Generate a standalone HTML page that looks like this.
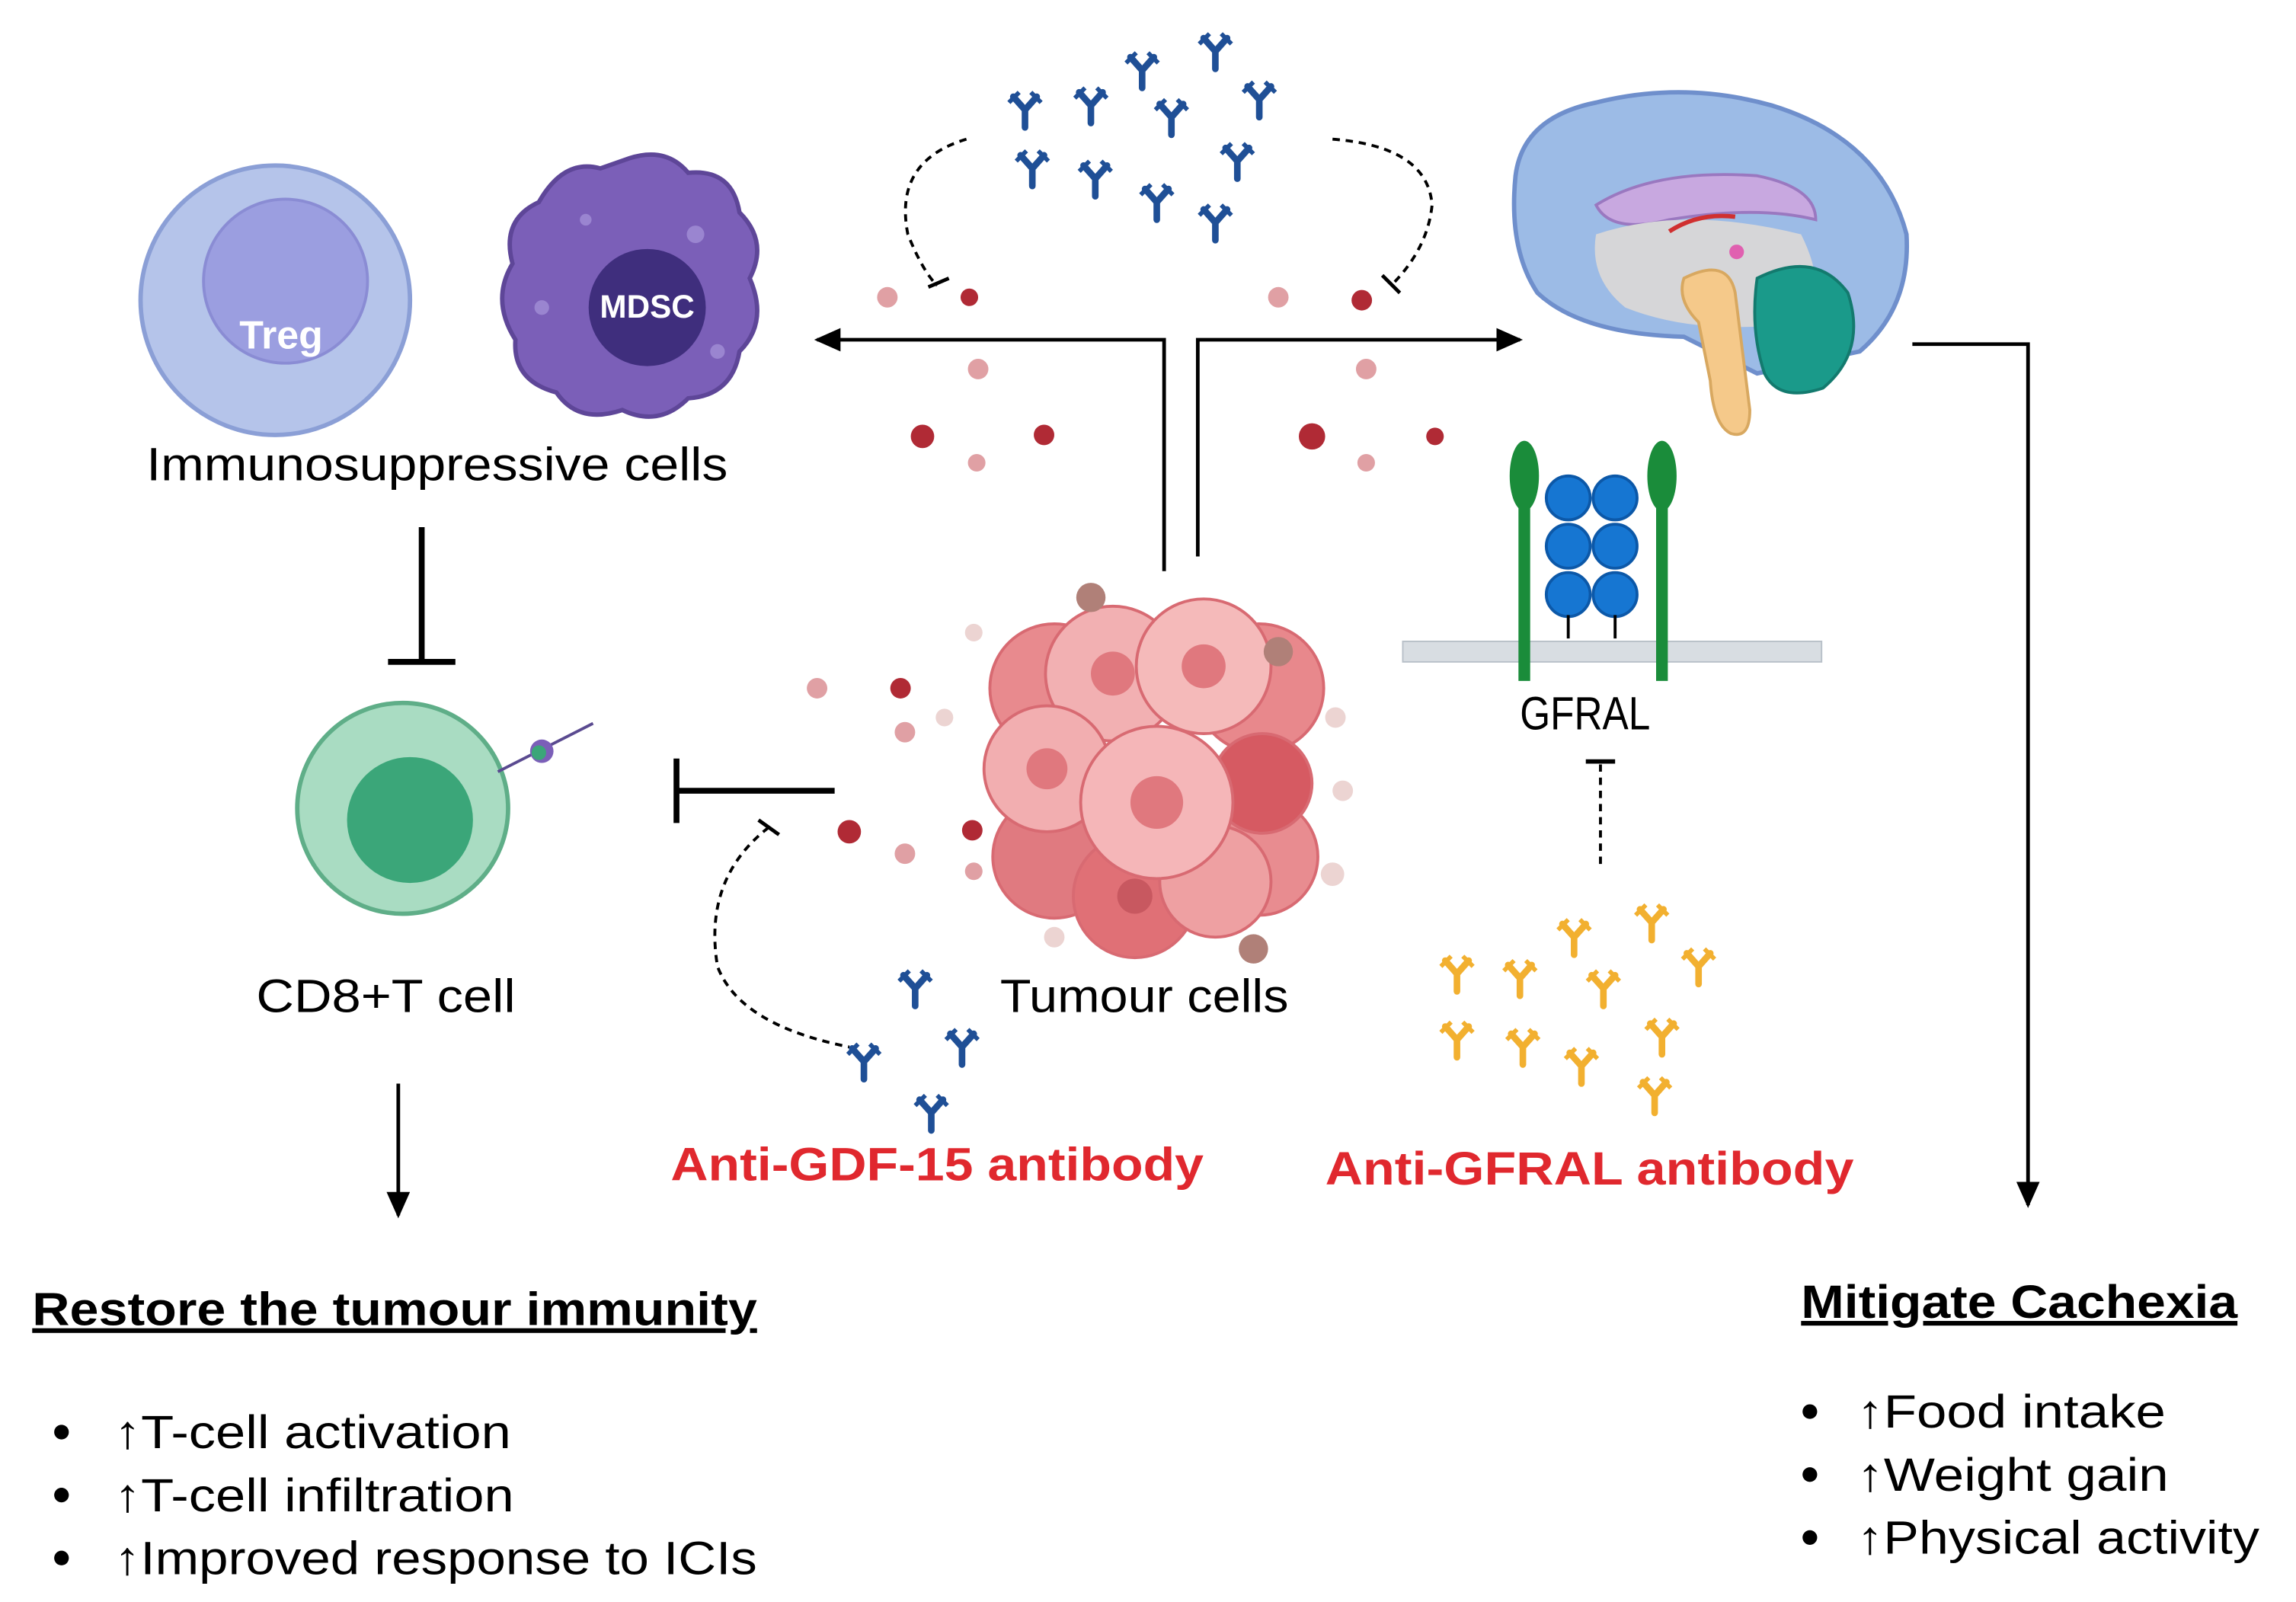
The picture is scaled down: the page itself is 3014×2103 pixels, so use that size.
<!DOCTYPE html>
<html><head><meta charset="utf-8"><style>
html,body{margin:0;padding:0;background:#fff}
svg{display:block}
text{font-family:"Liberation Sans",Arial,sans-serif}
</style></head><body>
<svg width="3014" height="2103" viewBox="0 0 1568 1094" xmlns="http://www.w3.org/2000/svg">
<defs>
<g id="ab"><path d="M0,0 L0,12 M0,0 L-8,-9 M0,0 L8,-9" stroke-width="4.5" stroke-linecap="round" fill="none"/><path d="M-4,-12 L-11,-5 M4,-12 L11,-5" stroke-width="3" fill="none"/></g>
<marker id="ahb" markerWidth="20" markerHeight="20" refX="16" refY="8" orient="auto" markerUnits="userSpaceOnUse"><path d="M0,0 L18,8 L0,16 Z" fill="#000"/></marker>
</defs>
<rect width="1568" height="1094" fill="#fff"/>

<!-- Treg -->
<circle cx="188" cy="205" r="92" fill="#b5c4ea" stroke="#8b9fd6" stroke-width="3"/>
<circle cx="195" cy="192" r="56" fill="#9b9ee0" stroke="#8a8cd4" stroke-width="2"/>
<text x="192" y="238" font-size="27" font-weight="bold" fill="#fff" text-anchor="middle">Treg</text>
<!-- MDSC -->
<path d="M430,108 Q455,100 470,118 Q500,115 505,145 Q525,165 512,190 Q525,220 505,240 Q500,270 470,272 Q450,292 425,280 Q395,290 380,268 Q350,260 352,232 Q335,205 350,180 Q342,150 368,138 Q385,108 410,115 Z" fill="#7b5fb8" stroke="#5e4698" stroke-width="3"/>
<circle cx="442" cy="210" r="40" fill="#3f2e7d"/>
<circle cx="370" cy="210" r="5" fill="#9a85d0"/><circle cx="475" cy="160" r="6" fill="#9a85d0"/><circle cx="400" cy="150" r="4" fill="#9a85d0"/><circle cx="490" cy="240" r="5" fill="#9a85d0"/>
<text x="442" y="217" font-size="22" font-weight="bold" fill="#fff" text-anchor="middle">MDSC</text>
<text x="100" y="328" font-size="32" textLength="397" lengthAdjust="spacingAndGlyphs">Immunosuppressive cells</text>
<path d="M288,360 L288,450 M265,452 L311,452" stroke="#000" stroke-width="4" fill="none"/>
<!-- CD8 -->
<circle cx="275" cy="552" r="72" fill="#a9dcc2" stroke="#5fae88" stroke-width="3"/>
<circle cx="280" cy="560" r="43" fill="#3ba679"/>
<path d="M340,527 L405,494" stroke="#5a4a90" stroke-width="2"/>
<circle cx="370" cy="513" r="8" fill="#7b5fb8"/><circle cx="368" cy="514" r="5" fill="#3ba679"/>
<text x="175" y="691" font-size="32" textLength="177" lengthAdjust="spacingAndGlyphs">CD8+T cell</text>
<path d="M272,740 L272,830" stroke="#000" stroke-width="2.5" marker-end="url(#ahb)"/>
<text x="22" y="905" font-size="32" font-weight="bold" text-decoration="underline" textLength="495" lengthAdjust="spacingAndGlyphs">Restore the tumour immunity</text>
<g font-size="32">
<circle cx="42" cy="978" r="5"/><text x="78" y="989" textLength="271" lengthAdjust="spacingAndGlyphs">↑T-cell activation</text>
<circle cx="42" cy="1021" r="5"/><text x="78" y="1032" textLength="273" lengthAdjust="spacingAndGlyphs">↑T-cell infiltration</text>
<circle cx="42" cy="1064" r="5"/><text x="78" y="1075" textLength="439" lengthAdjust="spacingAndGlyphs">↑Improved response to ICIs</text>
</g>

<!-- top antibodies -->
<g stroke="#1f4f96" fill="none">
<use href="#ab" x="830" y="35"/><use href="#ab" x="780" y="48"/><use href="#ab" x="700" y="75"/><use href="#ab" x="745" y="72"/><use href="#ab" x="800" y="80"/><use href="#ab" x="860" y="68"/><use href="#ab" x="705" y="115"/><use href="#ab" x="748" y="122"/><use href="#ab" x="790" y="138"/><use href="#ab" x="845" y="110"/><use href="#ab" x="830" y="152"/>
</g>
<path d="M660,95 Q610,110 620,160 Q630,185 640,195" stroke="#000" stroke-width="2" stroke-dasharray="5,4" fill="none"/>
<path d="M634,196 L648,190" stroke="#000" stroke-width="2.5"/>
<path d="M910,95 Q975,100 978,140 Q975,170 950,195" stroke="#000" stroke-width="2" stroke-dasharray="5,4" fill="none"/>
<path d="M944,188 L956,200" stroke="#000" stroke-width="2.5"/>
<g fill="#e0a0a4">
<circle cx="606" cy="203" r="7"/><circle cx="668" cy="252" r="7"/><circle cx="667" cy="316" r="6"/><circle cx="873" cy="203" r="7"/><circle cx="933" cy="252" r="7"/><circle cx="933" cy="316" r="6"/>
<circle cx="558" cy="470" r="7"/><circle cx="618" cy="500" r="7"/><circle cx="618" cy="583" r="7"/><circle cx="665" cy="595" r="6"/>
</g>
<g fill="#b02a35">
<circle cx="662" cy="203" r="6"/><circle cx="630" cy="298" r="8"/><circle cx="713" cy="297" r="7"/><circle cx="930" cy="205" r="7"/><circle cx="896" cy="298" r="9"/><circle cx="980" cy="298" r="6"/><circle cx="615" cy="470" r="7"/><circle cx="580" cy="568" r="8"/><circle cx="664" cy="567" r="7"/>
</g>
<path d="M795,390 L795,232 L558,232" stroke="#000" stroke-width="2.5" fill="none" marker-end="url(#ahb)"/>
<path d="M818,380 L818,232 L1038,232" stroke="#000" stroke-width="2.5" fill="none" marker-end="url(#ahb)"/>
<!-- tumour cluster -->
<g stroke="#d86a72" stroke-width="2">
<circle cx="720" cy="470" r="44" fill="#e88a8e"/><circle cx="860" cy="470" r="44" fill="#e8888c"/><circle cx="720" cy="585" r="42" fill="#e07a80"/><circle cx="860" cy="585" r="40" fill="#e88c90"/><circle cx="775" cy="612" r="42" fill="#e07076"/><circle cx="830" cy="602" r="38" fill="#eea0a2"/><circle cx="862" cy="535" r="34" fill="#d65a62"/>
<circle cx="760" cy="460" r="46" fill="#f2b0b2"/><circle cx="822" cy="455" r="46" fill="#f5baba"/><circle cx="715" cy="525" r="43" fill="#f2aeb0"/><circle cx="790" cy="548" r="52" fill="#f5b6b8"/>
</g>
<g fill="#e0787e"><circle cx="760" cy="460" r="15"/><circle cx="822" cy="455" r="15"/><circle cx="715" cy="525" r="14"/><circle cx="790" cy="548" r="18"/><circle cx="775" cy="612" r="12" fill="#c85860"/></g>
<g fill="#b08078"><circle cx="745" cy="408" r="10"/><circle cx="873" cy="445" r="10"/><circle cx="856" cy="648" r="10"/></g>
<g fill="#ecd4d2"><circle cx="665" cy="432" r="6"/><circle cx="912" cy="490" r="7"/><circle cx="917" cy="540" r="7"/><circle cx="910" cy="597" r="8"/><circle cx="720" cy="640" r="7"/><circle cx="645" cy="490" r="6"/></g>
<path d="M570,540 L462,540 M462,518 L462,562" stroke="#000" stroke-width="4" fill="none"/>
<path d="M525,565 Q480,600 490,660 Q505,700 580,715" stroke="#000" stroke-width="2" stroke-dasharray="5,4" fill="none"/>
<path d="M518,560 L532,570" stroke="#000" stroke-width="2.5"/>
<g stroke="#1f4f96" fill="none"><use href="#ab" x="625" y="675"/><use href="#ab" x="657" y="715"/><use href="#ab" x="590" y="725"/><use href="#ab" x="636" y="760"/></g>
<text x="683" y="691" font-size="32" textLength="197" lengthAdjust="spacingAndGlyphs">Tumour cells</text>
<text x="458" y="806" font-size="32" font-weight="bold" fill="#e0282e" textLength="364" lengthAdjust="spacingAndGlyphs">Anti-GDF-15 antibody</text>

<!-- GFRAL -->
<rect x="958" y="438" width="286" height="14" fill="#d8dde2" stroke="#b8c0c8"/>
<g fill="#1a8c3a"><ellipse cx="1041" cy="325" rx="10" ry="24"/><rect x="1037" y="345" width="8" height="120"/><ellipse cx="1135" cy="325" rx="10" ry="24"/><rect x="1131" y="345" width="8" height="120"/></g>
<g fill="#1676d2" stroke="#0c58a8" stroke-width="2">
<circle cx="1071" cy="340" r="15"/><circle cx="1103" cy="340" r="15"/><circle cx="1071" cy="373" r="15"/><circle cx="1103" cy="373" r="15"/><circle cx="1071" cy="406" r="15"/><circle cx="1103" cy="406" r="15"/></g>
<path d="M1071,420 L1071,436 M1103,420 L1103,436" stroke="#000" stroke-width="2"/>
<text x="1038" y="498" font-size="32" textLength="89" lengthAdjust="spacingAndGlyphs">GFRAL</text>
<path d="M1083,520 L1103,520" stroke="#000" stroke-width="3"/>
<path d="M1093,522 L1093,592" stroke="#000" stroke-width="2" stroke-dasharray="5,4"/>
<g stroke="#f2b030" fill="none"><use href="#ab" x="1128" y="630"/><use href="#ab" x="1075" y="640"/><use href="#ab" x="995" y="665"/><use href="#ab" x="1038" y="668"/><use href="#ab" x="1095" y="675"/><use href="#ab" x="1160" y="660"/><use href="#ab" x="995" y="710"/><use href="#ab" x="1040" y="715"/><use href="#ab" x="1080" y="728"/><use href="#ab" x="1135" y="708"/><use href="#ab" x="1130" y="748"/></g>
<text x="905" y="809" font-size="32" font-weight="bold" fill="#e0282e" textLength="361" lengthAdjust="spacingAndGlyphs">Anti-GFRAL antibody</text>

<!-- Brain -->
<path d="M1035,120 Q1040,80 1090,70 Q1150,55 1210,72 Q1285,95 1302,160 Q1305,210 1270,240 L1200,255 L1150,230 Q1080,228 1050,200 Q1030,170 1035,120 Z" fill="#9cbbe6" stroke="#6f8fcc" stroke-width="3"/>
<path d="M1090,140 Q1130,115 1200,120 Q1240,128 1240,150 Q1200,140 1140,150 Q1100,160 1090,140 Z" fill="#c8a8e0" stroke="#9a78c0" stroke-width="2"/>
<path d="M1090,160 Q1150,140 1230,160 Q1250,200 1230,220 Q1160,230 1110,210 Q1085,190 1090,160 Z" fill="#d6d6d8"/>
<path d="M1140,158 Q1160,145 1185,148" stroke="#d03030" stroke-width="3" fill="none"/>
<circle cx="1186" cy="172" r="5" fill="#e060b0"/>
<path d="M1150,190 Q1180,175 1185,200 L1195,280 Q1195,300 1182,296 Q1170,290 1168,260 L1160,220 Q1145,205 1150,190 Z" fill="#f5c98a" stroke="#d8a860" stroke-width="2"/>
<path d="M1200,190 Q1240,170 1262,200 Q1275,240 1245,265 Q1215,275 1205,255 Q1195,225 1200,190 Z" fill="#1a9a8a" stroke="#137a6e" stroke-width="2"/>
<path d="M1306,235 L1385,235 L1385,823" stroke="#000" stroke-width="2.5" fill="none" marker-end="url(#ahb)"/>
<text x="1230" y="900" font-size="32" font-weight="bold" text-decoration="underline" textLength="298" lengthAdjust="spacingAndGlyphs">Mitigate Cachexia</text>
<g font-size="32">
<circle cx="1236" cy="964" r="5"/><text x="1268" y="975" textLength="211" lengthAdjust="spacingAndGlyphs">↑Food intake</text>
<circle cx="1236" cy="1007" r="5"/><text x="1268" y="1018" textLength="213" lengthAdjust="spacingAndGlyphs">↑Weight gain</text>
<circle cx="1236" cy="1050" r="5"/><text x="1268" y="1061" textLength="275" lengthAdjust="spacingAndGlyphs">↑Physical activity</text>
</g>
</svg>
</body></html>
